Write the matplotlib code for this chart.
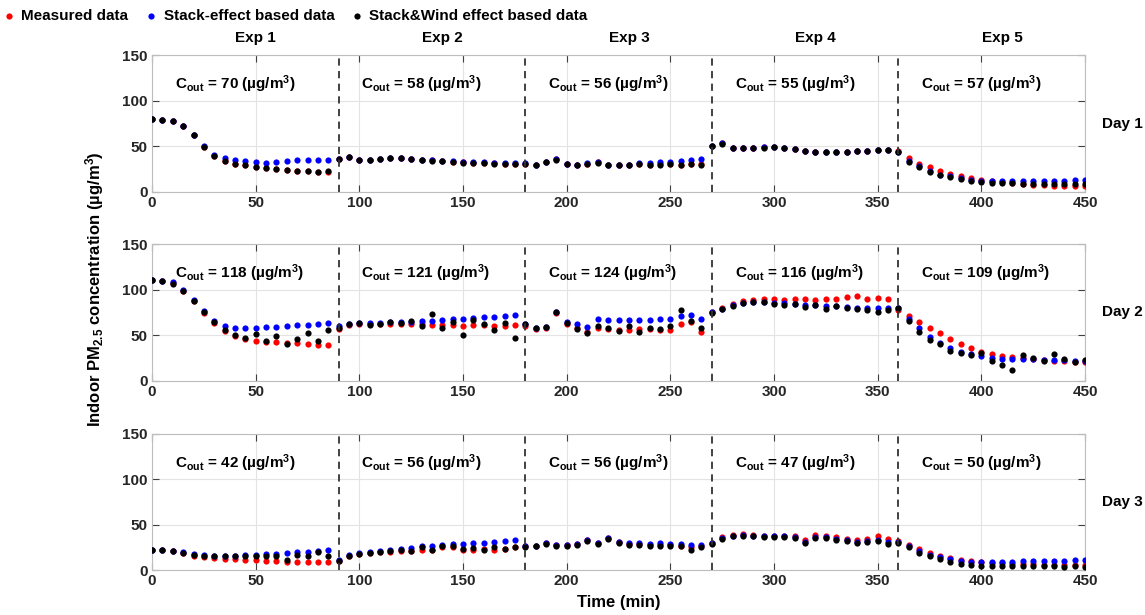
import numpy as np
import matplotlib
matplotlib.use("Agg")
import matplotlib.pyplot as plt
import matplotlib.transforms as mtransforms

plt.rcParams['font.family'] = ['Liberation Sans', 'DejaVu Sans']
plt.rcParams['font.weight'] = 'bold'
plt.rcParams['mathtext.fontset'] = 'custom'
plt.rcParams['mathtext.bf'] = 'Liberation Sans:bold'
plt.rcParams['mathtext.rm'] = 'Liberation Sans:bold'
plt.rcParams['mathtext.default'] = 'bf'

# time in minutes, one reading every 5 min
t = np.arange(0, 451, 5)

exp_starts = [0, 90, 180, 270, 360]
exp_names = ['Exp 1', 'Exp 2', 'Exp 3', 'Exp 4', 'Exp 5']
day_names = ['Day 1', 'Day 2', 'Day 3']
c_out = [[70, 58, 56, 55, 57],
         [118, 121, 124, 116, 109],
         [42, 56, 56, 47, 50]]

# Day 1
measured_d1 = [80, 79, 78, 72, 62, 49, 39, 34, 31, 29, 27, 26, 25, 24, 23, 23, 22, 22,
               36, 38, 35, 35, 36, 37, 37, 36, 35, 35, 34, 33, 33, 32, 32, 32, 31, 31,
               31, 30, 33, 36, 31, 29, 31, 33, 29, 29, 29, 31, 30, 31, 31, 30, 31, 31,
               50, 54, 48, 48, 48, 49, 49, 48, 47, 45, 44, 44, 44, 44, 45, 45, 46, 46,
               45, 37, 31, 27, 23, 20, 17, 15, 13, 12, 11, 10, 9, 8, 8, 7, 7, 7, 7]
stack_d1 = [80, 79, 78, 72, 62, 50, 40, 37, 35, 34, 33, 32, 33, 34, 35, 35, 35, 35,
            36, 38, 35, 35, 36, 37, 37, 36, 35, 35, 34, 34, 33, 33, 33, 32, 32, 32,
            32, 30, 33, 36, 31, 30, 32, 33, 30, 30, 30, 32, 32, 33, 33, 34, 35, 36,
            50, 54, 48, 48, 48, 49, 49, 48, 47, 45, 44, 44, 44, 44, 45, 45, 46, 46,
            44, 34, 28, 23, 19, 17, 15, 13, 12, 12, 12, 12, 12, 12, 12, 12, 12, 13, 13]
wind_d1 = [80, 79, 78, 72, 62, 49, 39, 34, 31, 29, 27, 26, 25, 24, 23, 23, 22, 23,
           36, 38, 35, 35, 36, 37, 37, 36, 35, 34, 34, 33, 32, 32, 32, 31, 31, 31,
           31, 30, 33, 35, 31, 29, 31, 32, 29, 29, 29, 31, 30, 30, 31, 30, 31, 30,
           50, 53, 48, 48, 48, 48, 49, 48, 47, 45, 44, 44, 44, 44, 45, 45, 46, 46,
           44, 33, 27, 22, 18, 16, 14, 12, 11, 10, 10, 10, 9, 9, 9, 9, 9, 9, 9]

# Day 2
measured_d2 = [111, 110, 107, 99, 87, 74, 63, 55, 49, 46, 44, 43, 42, 41, 41, 40, 39, 39,
               57, 61, 62, 62, 62, 62, 62, 62, 62, 61, 61, 61, 60, 61, 61, 60, 60, 61,
               60, 57, 58, 74, 62, 58, 54, 58, 57, 56, 56, 57, 57, 56, 56, 62, 64, 54,
               76, 80, 84, 87, 89, 90, 90, 89, 90, 90, 89, 90, 90, 92, 93, 90, 91, 90,
               78, 71, 64, 58, 52, 46, 40, 36, 32, 29, 27, 26, 25, 24, 23, 22, 22, 21, 20]
stack_d2 = [111, 110, 108, 100, 89, 77, 66, 60, 58, 58, 58, 59, 59, 60, 61, 61, 62, 63,
            60, 62, 63, 63, 63, 64, 64, 65, 66, 66, 67, 68, 68, 69, 70, 70, 71, 72,
            62, 58, 59, 76, 64, 62, 59, 68, 67, 67, 67, 67, 67, 68, 68, 71, 72, 68,
            75, 79, 83, 85, 86, 86, 85, 85, 84, 83, 83, 82, 82, 81, 80, 80, 80, 80,
            80, 68, 58, 48, 41, 36, 32, 29, 27, 25, 24, 24, 24, 24, 23, 23, 23, 22, 22]
wind_d2 = [111, 110, 106, 99, 88, 75, 64, 56, 50, 47, 51, 44, 49, 40, 46, 52, 44, 56,
           58, 62, 63, 61, 62, 64, 63, 66, 60, 73, 58, 64, 50, 67, 62, 56, 63, 47,
           62, 58, 59, 75, 63, 57, 52, 60, 58, 55, 60, 54, 58, 57, 60, 78, 66, 58,
           74, 79, 82, 85, 86, 86, 84, 83, 84, 81, 83, 79, 82, 80, 79, 78, 76, 78,
           80, 66, 54, 45, 40, 33, 30, 28, 30, 22, 17, 12, 28, 25, 22, 29, 24, 20, 23]

# Day 3
measured_d3 = [22, 22, 21, 19, 16, 14, 13, 12, 12, 11, 11, 10, 10, 9, 9, 9, 9, 9,
               10, 16, 18, 19, 20, 20, 21, 21, 22, 22, 25, 25, 22, 22, 23, 22, 23, 25,
               26, 27, 30, 28, 28, 29, 33, 30, 35, 31, 29, 29, 28, 28, 28, 27, 25, 26,
               30, 36, 39, 40, 39, 38, 38, 38, 37, 33, 39, 38, 36, 34, 33, 34, 37, 34,
               32, 28, 23, 19, 15, 13, 11, 10, 9, 8, 8, 7, 7, 7, 6, 6, 6, 6, 6]
stack_d3 = [22, 22, 21, 20, 18, 17, 16, 16, 16, 17, 17, 18, 18, 19, 20, 20, 21, 22,
            11, 17, 19, 20, 21, 22, 23, 24, 26, 27, 28, 29, 29, 30, 30, 31, 32, 33,
            26, 27, 30, 28, 28, 29, 33, 30, 35, 31, 30, 30, 29, 30, 29, 29, 28, 28,
            30, 35, 38, 39, 38, 37, 37, 37, 36, 31, 36, 36, 34, 33, 31, 32, 33, 31,
            31, 26, 21, 17, 14, 12, 10, 9, 9, 9, 9, 9, 10, 10, 10, 10, 10, 11, 11]
wind_d3 = [22, 22, 21, 19, 17, 15, 15, 15, 16, 15, 16, 15, 16, 11, 17, 15, 20, 15,
           10, 16, 18, 19, 20, 21, 22, 21, 25, 22, 26, 27, 23, 24, 22, 25, 23, 25,
           25, 26, 29, 27, 27, 28, 32, 29, 34, 30, 28, 28, 27, 27, 27, 26, 22, 25,
           29, 34, 37, 38, 37, 36, 36, 36, 35, 30, 35, 35, 33, 32, 30, 31, 32, 29,
           30, 25, 19, 15, 12, 9, 7, 6, 5, 5, 5, 4, 5, 4, 4, 5, 3, 4, 3]

measured = [measured_d1, measured_d2, measured_d3]
stack = [stack_d1, stack_d2, stack_d3]
wind = [wind_d1, wind_d2, wind_d3]

fig = plt.figure(figsize=(11.45, 6.15), dpi=100)
fs = 11
bottoms = [0.688, 0.381, 0.073]
height = 0.222

for d in range(3):
    ax = fig.add_axes([0.1328, bottoms[d], 0.8148, height])
    ax.scatter(t, measured[d], s=20, color='#ff0000', linewidths=0, zorder=3, label='Measured data')
    ax.scatter(t, stack[d], s=20, color='#0000ff', linewidths=0, zorder=4, label='Stack-effect based data')
    ax.scatter(t, wind[d], s=20, color='black', linewidths=0, zorder=5, label='Stack&Wind effect based data')
    for x0 in exp_starts[1:]:
        ax.axvline(x0, color='0.2', ls=(0, (4, 3)), lw=1.3, zorder=6)
    for k, x0 in enumerate(exp_starts):
        ax.text(x0 + 11, 118, 'C$_{out}$ = %d (\u00b5g/m$^{3}$)' % c_out[d][k],
                fontsize=fs, fontweight='bold', ha='left', va='center')
    ax.set_xlim(0, 450)
    ax.set_ylim(0, 150)
    ax.set_xticks(np.arange(0, 451, 50))
    ax.set_yticks([0, 50, 100, 150])
    ax.grid(True, color='#e3e3e3', lw=0.8)
    ax.set_axisbelow(True)
    for sp in ax.spines.values():
        sp.set_color('#bdbdbd')
    ax.tick_params(direction='in', top=True, right=True, length=5, color='#404040',
                   labelsize=fs, pad=3)
    for lab in ax.get_xticklabels() + ax.get_yticklabels():
        lab.set_fontweight('bold')
        lab.set_color('#262626')
    # day label at the right edge of the figure
    ymid = bottoms[d] + height / 2
    fig.text(0.998, ymid, day_names[d], fontsize=fs, fontweight='bold', ha='right', va='center')
    if d == 0:
        trans = mtransforms.blended_transform_factory(ax.transData, ax.transAxes)
        for k, x0 in enumerate(exp_starts):
            ax.text(x0 + 50, 1.124, exp_names[k], transform=trans, fontsize=fs,
                    fontweight='bold', ha='center', va='center')
        handles, labels = ax.get_legend_handles_labels()
        fig.legend(handles, labels, loc='upper left', bbox_to_anchor=(-0.004, 1.0),
                   ncol=3, frameon=False, markerscale=1.0,
                   handlelength=0.6, handletextpad=0.5, columnspacing=1.2,
                   borderaxespad=0.2, prop={'weight': 'bold', 'size': fs})
    if d == 2:
        ax.set_xlabel('Time (min)', fontsize=fs + 1, fontweight='bold', labelpad=5)

fig.text(0.083, 0.53, 'Indoor PM$_{2.5}$ concentration (\u00b5g/m$^{3}$)', rotation=90,
         fontsize=fs + 1, fontweight='bold', ha='center', va='center')

fig.savefig('out.png', dpi=100)
